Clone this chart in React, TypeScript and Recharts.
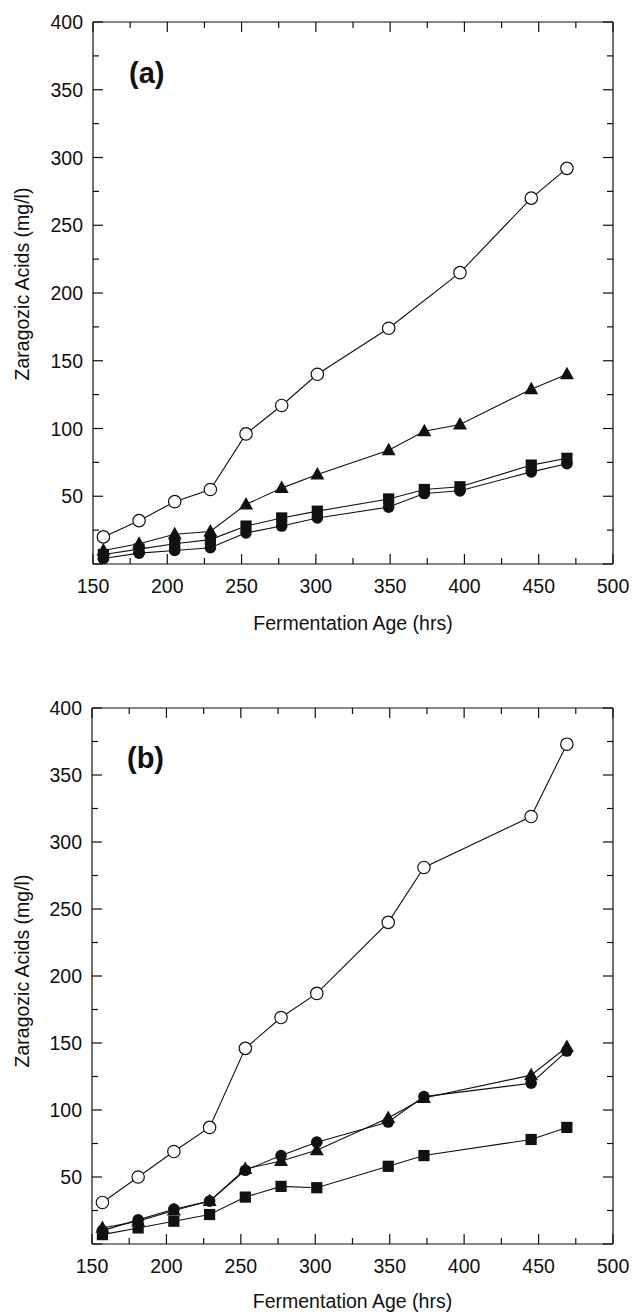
import React from 'react';
import { LineChart, Line, XAxis, YAxis, Label } from 'recharts';

// ---- Panel (a) ----
const hoursA = [157, 181, 205, 229, 253, 277, 301, 349, 373, 397, 445, 469];
const openCircleA = [20, 32, 46, 55, 96, 117, 140, 174, null, 215, 270, 292];
const triangleA = [10, 15, 22, 24, 44, 56, 66, 84, 98, 103, 129, 140];
const squareA = [7, 11, 15, 18, 28, 34, 39, 48, 55, 57, 73, 78];
const filledCircleA = [4, 8, 10, 12, 23, 28, 34, 42, 52, 54, 68, 74];

// ---- Panel (b) ----
const hoursB = [157, 181, 205, 229, 253, 277, 301, 349, 373, 445, 469];
const openCircleB = [31, 50, 69, 87, 146, 169, 187, 240, 281, 319, 373];
const triangleB = [12, 17, 25, 32, 56, 62, 70, 94, 109, 126, 147];
const filledCircleB = [10, 18, 26, 32, 55, 66, 76, 91, 110, 120, 144];
const squareB = [7, 12, 17, 22, 35, 43, 42, 58, 66, 78, 87];

// ---- Ticks ----
const xTickLabels = [150, 200, 250, 300, 350, 400, 450, 500];
const yTickLabels = [50, 100, 150, 200, 250, 300, 350, 400];

const xAllTicks = xTickLabels.flatMap((v, i) => (i < xTickLabels.length - 1 ? [v, v + 25] : [v]));
const yAllTicks = [0, 25].concat(yTickLabels.flatMap((v, i) => (i < yTickLabels.length - 1 ? [v, v + 25] : [v])));

const toSeries = (hours: number[], vals: (number | null)[]) =>
  hours.map((h, i) => ({ h, v: vals[i] })).filter((d) => d.v !== null);

const FONT = 'Liberation Sans, Arial, Helvetica, sans-serif';
const INK = '#111';
const textStyle = { fontFamily: FONT, fontSize: 19.5, fill: INK };

const MAJ = 10;
const MIN = 6;

const BottomTick = (p: any) => {
  const v = p.payload.value;
  const major = v % 50 === 0;
  return (
    <g>
      <line x1={p.x} x2={p.x} y1={p.y} y2={p.y - (major ? MAJ : MIN)} stroke={INK} strokeWidth={1.2} />
      {major && (
        <text x={p.x} y={p.y + 29} textAnchor="middle" {...textStyle}>
          {v}
        </text>
      )}
    </g>
  );
};

const TopTick = (p: any) => {
  const v = p.payload.value;
  const major = v % 50 === 0;
  return <line x1={p.x} x2={p.x} y1={p.y} y2={p.y + (major ? MAJ : MIN)} stroke={INK} strokeWidth={1.2} />;
};

const LeftTick = (p: any) => {
  const v = p.payload.value;
  const major = v % 50 === 0;
  return (
    <g>
      <line x1={p.x} x2={p.x + (major ? MAJ : MIN)} y1={p.y} y2={p.y} stroke={INK} strokeWidth={1.2} />
      {major && v > 0 && (
        <text x={p.x - 10} y={p.y} dy="0.36em" textAnchor="end" {...textStyle}>
          {v}
        </text>
      )}
    </g>
  );
};

const RightTick = (p: any) => {
  const v = p.payload.value;
  const major = v % 50 === 0;
  return <line x1={p.x} x2={p.x - (major ? MAJ : MIN)} y1={p.y} y2={p.y} stroke={INK} strokeWidth={1.2} />;
};

const OpenDot = (p: any) =>
  p.cx == null ? null : (
    <circle key={`o${p.index}`} cx={p.cx} cy={p.cy} r={6.2} fill="#fff" stroke={INK} strokeWidth={1.2} />
  );
const FilledDot = (p: any) =>
  p.cx == null ? null : <circle key={`f${p.index}`} cx={p.cx} cy={p.cy} r={5.8} fill={INK} stroke="none" />;
const SquareDot = (p: any) =>
  p.cx == null ? null : (
    <rect key={`s${p.index}`} x={p.cx - 5.6} y={p.cy - 5.6} width={11.2} height={11.2} fill={INK} stroke="none" />
  );
const TriDot = (p: any) =>
  p.cx == null ? null : (
    <polygon
      key={`t${p.index}`}
      points={`${p.cx},${p.cy - 7.5} ${p.cx + 7},${p.cy + 5} ${p.cx - 7},${p.cy + 5}`}
      fill={INK}
      stroke="none"
    />
  );

type PanelProps = {
  top: number;
  marginTop: number;
  marginRight: number;
  yAxisWidth: number;
  xAxisHeight: number;
  titleOffset: number;
  yTitleX: number;
  yTitleY: number;
  letter: string;
  letterX: number;
  letterY: number;
  series: { data: { h: number; v: number | null }[]; dot: any }[];
};

const Panel = ({
  top,
  marginTop,
  marginRight,
  yAxisWidth,
  xAxisHeight,
  titleOffset,
  yTitleX,
  yTitleY,
  letter,
  letterX,
  letterY,
  series,
}: PanelProps) => (
  <div style={{ position: 'absolute', left: 0, top }}>
    <LineChart width={633} height={657} margin={{ top: marginTop - 1, right: marginRight - 1, bottom: 0, left: 0 }}>
      <XAxis
        xAxisId="bottom"
        dataKey="h"
        type="number"
        domain={[150, 500]}
        ticks={xAllTicks}
        interval={0}
        height={xAxisHeight}
        tickSize={0}
        tickMargin={0}
        tick={BottomTick}
        axisLine={{ stroke: INK, strokeWidth: 1.2 }}
        tickLine={false}
        allowDataOverflow
      >
        <Label
          content={(lp: any) => {
            const vb = lp.viewBox || {};
            return (
              <g>
                <text
                  x={(vb.x ?? 0) + (vb.width ?? 0) / 2}
                  y={(vb.y ?? 0) + (vb.height ?? 0) - titleOffset}
                  textAnchor="middle"
                  {...textStyle}
                >
                  Fermentation Age (hrs)
                </text>
                <text x={letterX} y={letterY} fontFamily={FONT} fontSize={29} fontWeight="bold" fill={INK}>
                  {letter}
                </text>
              </g>
            );
          }}
        />
      </XAxis>
      <XAxis
        xAxisId="top"
        orientation="top"
        dataKey="h"
        type="number"
        domain={[150, 500]}
        ticks={xAllTicks}
        interval={0}
        height={1}
        tickSize={0}
        tickMargin={0}
        tick={TopTick}
        axisLine={{ stroke: INK, strokeWidth: 1.2 }}
        tickLine={false}
        allowDataOverflow
      />
      <YAxis
        yAxisId="left"
        type="number"
        domain={[0, 400]}
        ticks={yAllTicks}
        interval={0}
        width={yAxisWidth}
        tickSize={0}
        tickMargin={0}
        tick={LeftTick}
        axisLine={{ stroke: INK, strokeWidth: 1.2 }}
        tickLine={false}
        allowDataOverflow
      >
        <Label
          content={() => (
            <text
              x={yTitleX}
              y={yTitleY}
              transform={`rotate(-90 ${yTitleX} ${yTitleY})`}
              textAnchor="middle"
              {...textStyle}
            >
              Zaragozic Acids (mg/l)
            </text>
          )}
        />
      </YAxis>
      <YAxis
        yAxisId="right"
        orientation="right"
        type="number"
        domain={[0, 400]}
        ticks={yAllTicks}
        interval={0}
        width={1}
        tickSize={0}
        tickMargin={0}
        tick={RightTick}
        axisLine={{ stroke: INK, strokeWidth: 1.2 }}
        tickLine={false}
        allowDataOverflow
      />
      {series.map((s, i) => (
        <Line
          key={i}
          xAxisId="bottom"
          yAxisId="left"
          data={s.data}
          dataKey="v"
          type="linear"
          stroke={INK}
          strokeWidth={1.1}
          dot={s.dot}
          activeDot={false}
          isAnimationActive={false}
        />
      ))}
    </LineChart>
  </div>
);

export default function App() {
  const seriesA = [
    { data: toSeries(hoursA, filledCircleA), dot: FilledDot },
    { data: toSeries(hoursA, squareA), dot: SquareDot },
    { data: toSeries(hoursA, triangleA), dot: TriDot },
    { data: toSeries(hoursA, openCircleA), dot: OpenDot },
  ];
  const seriesB = [
    { data: toSeries(hoursB, squareB), dot: SquareDot },
    { data: toSeries(hoursB, triangleB), dot: TriDot },
    { data: toSeries(hoursB, filledCircleB), dot: FilledDot },
    { data: toSeries(hoursB, openCircleB), dot: OpenDot },
  ];
  return (
    <div style={{ position: 'absolute', left: 0, top: 0, width: 633, height: 1314, background: '#fff' }}>
      <Panel
        top={0}
        marginTop={22}
        marginRight={20}
        yAxisWidth={93}
        xAxisHeight={93}
        titleOffset={27}
        yTitleX={29}
        yTitleY={284}
        letter="(a)"
        letterX={129}
        letterY={83}
        series={seriesA}
      />
      <Panel
        top={657}
        marginTop={51}
        marginRight={20}
        yAxisWidth={92}
        xAxisHeight={70}
        titleOffset={6}
        yTitleX={29}
        yTitleY={314}
        letter="(b)"
        letterX={127}
        letterY={111}
        series={seriesB}
      />
    </div>
  );
}
